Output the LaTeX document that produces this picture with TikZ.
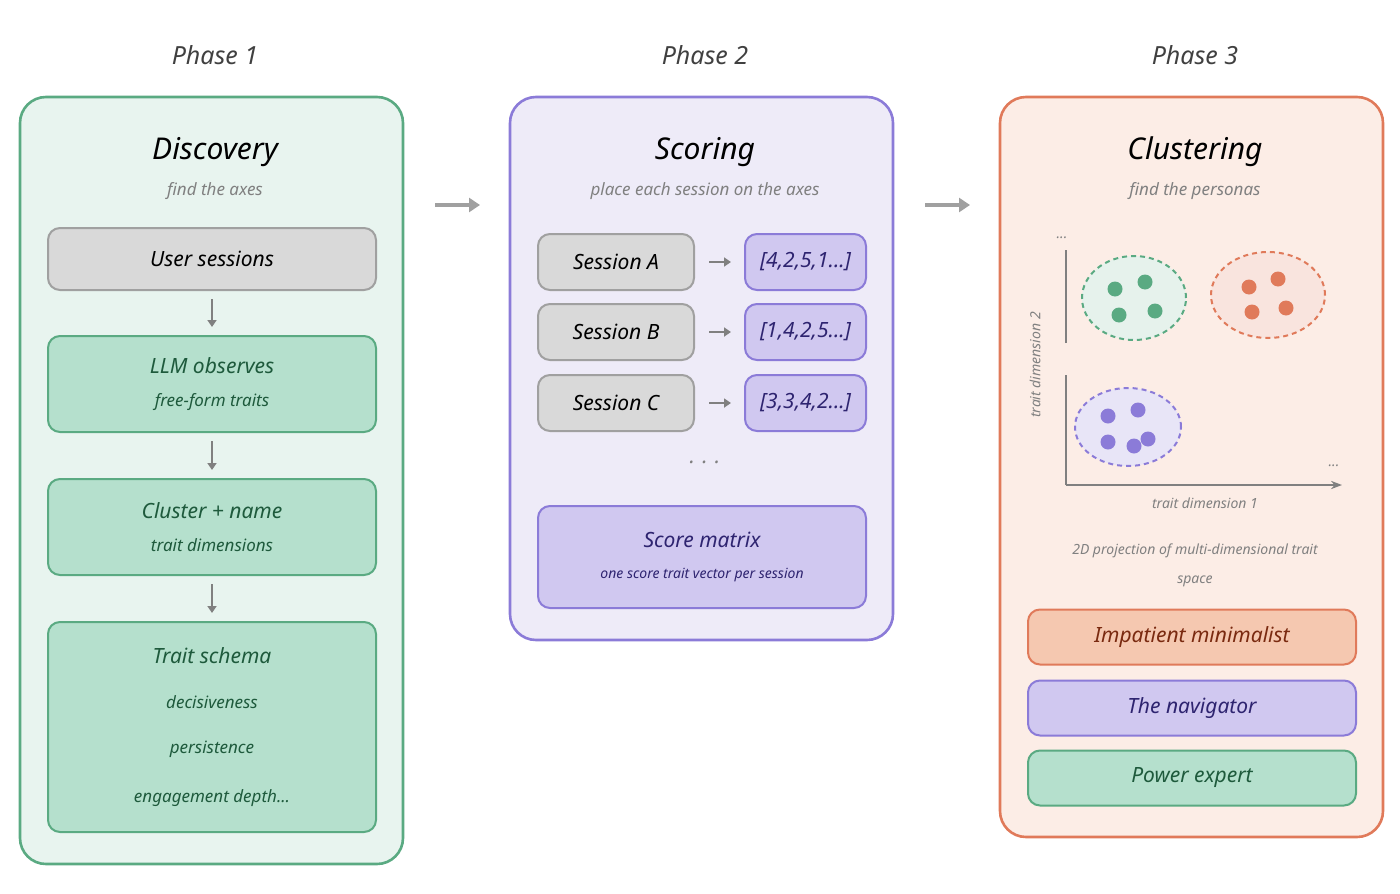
\documentclass[tikz,border=0pt]{standalone}
\usepackage{fontspec}
\setmainfont{Noto Sans}[AutoFakeBold=2.5]
\usepackage{tikz}
\usetikzlibrary{arrows.meta,positioning,shapes.geometric}
\definecolor{gline}{HTML}{5AAA82}
\definecolor{gback}{HTML}{E8F4EF}
\definecolor{gfill}{HTML}{B5E0CD}
\definecolor{gtext}{HTML}{1E5A3C}
\definecolor{pline}{HTML}{8B7BD8}
\definecolor{pback}{HTML}{EEEBF8}
\definecolor{pfill}{HTML}{D0C8F0}
\definecolor{ptext}{HTML}{2E2470}
\definecolor{oline}{HTML}{E07A5A}
\definecolor{oback}{HTML}{FCEDE6}
\definecolor{ofill}{HTML}{F5C8B0}
\definecolor{otext}{HTML}{7A2A10}
\definecolor{sfill}{HTML}{D9D9D9}
\definecolor{sline}{HTML}{A0A0A0}
\newcommand{\fsTitle}{\fontsize{30pt}{36pt}\selectfont\bfseries\itshape}
\newcommand{\fsBox}{\fontsize{21pt}{26pt}\selectfont\itshape}
\newcommand{\fsSub}{\fontsize{17pt}{22pt}\selectfont\itshape}
\newcommand{\fsTiny}{\fontsize{14pt}{18pt}\selectfont\itshape}
\tikzset{
  font={\itshape},
  panel/.style={draw=#1, line width=2.6pt, rounded corners=26pt},
  box/.style={draw=#1, line width=2pt, rounded corners=12pt, inner sep=0pt},
  flow/.style={-{Triangle[length=7pt,width=9pt]}, draw=gray, line width=1.8pt},
  big/.style={-{Triangle[length=11pt,width=14pt]}, draw=sline, line width=3.4pt},
  dot/.style={circle, inner sep=0pt, minimum size=15pt},
  blob/.style={ellipse, draw=#1, dash pattern=on 5pt off 4pt, line width=2pt}}
\begin{document}
\begin{tikzpicture}[x=1pt,y=-1pt]
\useasboundingbox (0,0) rectangle (1400,894);
% phase labels
\foreach \x/\n in {215/1,705/2,1195/3}
  \node[font=\fontsize{25pt}{30pt}\selectfont\itshape, text=darkgray] (ph\n) at (\x,55) {Phase \n};
% panels
\filldraw[panel=gline, fill=gback] (20,97) rectangle (403,864);
\filldraw[panel=pline, fill=pback] (510,97) rectangle (893,640);
\filldraw[panel=oline, fill=oback] (1000,97) rectangle (1383,837);
\coordinate (a1) at (435,205); \coordinate (a2) at (480,205);
\coordinate (a3) at (925,205); \coordinate (a4) at (970,205);
\draw[big] (a1) -- (a2);
\draw[big] (a3) -- (a4);
% phase 1
\node[font=\fsTitle] (t1) at (215,152) {Discovery};
\node[text=gray, font=\fsSub] (s1) at (215,191) {find the axes};
\node[box=sline, fill=sfill, minimum width=328pt, minimum height=62pt, font=\fsBox] (user) at (212,259) {User sessions};
\node[box=gline, fill=gfill, minimum width=328pt, minimum height=96pt, text=gtext, align=center] (llm) at (212,384)
  {{\fsBox LLM observes}\\[19pt]{\fsSub free-form traits}};
\node[box=gline, fill=gfill, minimum width=328pt, minimum height=96pt, text=gtext, align=center] (clu) at (212,527)
  {{\fsBox Cluster + name}\\[19pt]{\fsSub trait dimensions}};
\node[box=gline, fill=gfill, minimum width=328pt, minimum height=210pt, text=gtext, align=center] (sch) at (212,727)
  {{\fsBox Trait schema}\\[31pt]{\fsSub decisiveness}\\[31pt]{\fsSub persistence}\\[31pt]{\fsSub engagement depth...}};
\draw[flow] ([yshift=-8pt]user.south) -- ([yshift=8pt]llm.north);
\draw[flow] ([yshift=-8pt]llm.south) -- ([yshift=8pt]clu.north);
\draw[flow] ([yshift=-8pt]clu.south) -- ([yshift=8pt]sch.north);
% phase 2
\node[font=\fsTitle] (t2) at (705,152) {Scoring};
\node[text=gray, font=\fsSub] (s2) at (705,191) {place each session on the axes};
\foreach \n/\y/\v in {A/262/{[4,2,5,1...]},B/332/{[1,4,2,5...]},C/403/{[3,3,4,2...]}}{
  \node[box=sline, fill=sfill, minimum width=156pt, minimum height=56pt, font=\fsBox] (ses\n) at (616,\y) {Session \n};
  \node[box=pline, fill=pfill, minimum width=121pt, minimum height=56pt, text=ptext, font=\fsBox] (vec\n) at (805.5,\y) {\v};
  \draw[flow] ([xshift=14pt]ses\n.east) -- ([xshift=-13pt]vec\n.west);
}
\node[text=gray, font=\fsBox] (dots) at (705,462) {. . .};
\node[box=pline, fill=pfill, minimum width=328pt, minimum height=102pt, text=ptext, align=center] (mat) at (702,557)
  {{\fsBox\bfseries Score matrix}\\[19pt]{\fsTiny one score trait vector per session}};
% phase 3
\node[font=\fsTitle] (t3) at (1195,152) {Clustering};
\node[text=gray, font=\fsSub] (s3) at (1195,191) {find the personas};
\coordinate (o) at (1066,485); \coordinate (xe) at (1342,485);
\coordinate (y1) at (1066,375); \coordinate (y2) at (1066,343); \coordinate (ye) at (1066,250);
\draw[gray, line width=2pt, -{Stealth[length=11pt]}] (o) -- (xe);
\draw[gray, line width=2pt] (o) -- (y1);
\draw[gray, line width=2pt] (y2) -- (ye);
\node[text=gray, font=\fsTiny] (xd) at (1334,466) {...};
\node[text=gray, font=\fsTiny] (yd) at (1062,238) {...};
\node[text=gray, font=\fsTiny] (xl) at (1205,503) {trait dimension 1};
\node[text=gray, font=\fsTiny, rotate=90] (yl) at (1035,365) {trait dimension 2};
\node[blob=gline, fill=gline!15, minimum width=104pt, minimum height=84pt] (cg) at (1134,298) {};
\node[blob=oline, fill=oline!20, minimum width=114pt, minimum height=86pt] (co) at (1268,295) {};
\node[blob=pline, fill=pline!20, minimum width=106pt, minimum height=78pt] (cp) at (1128,427) {};
\foreach \x/\y in {1115/289,1145/282,1155/311,1119/315}
  \node[dot, fill=gline] at (\x,\y) {};
\foreach \x/\y in {1249/287,1278/279,1286/308,1252/312}
  \node[dot, fill=oline] at (\x,\y) {};
\foreach \x/\y in {1108/416,1138/410,1108/442,1134/446,1148/439}
  \node[dot, fill=pline] at (\x,\y) {};
\node[text=gray, align=center, font=\fsTiny] (cap) at (1195,565) {2D projection of multi-dimensional trait\\[11pt]space};
\node[box=oline, fill=ofill, minimum width=328pt, minimum height=55pt, text=otext, font=\fsBox] (p1) at (1192,637) {Impatient minimalist};
\node[box=pline, fill=pfill, minimum width=328pt, minimum height=55pt, text=ptext, font=\fsBox] (p2) at (1192,708) {The navigator};
\node[box=gline, fill=gfill, minimum width=328pt, minimum height=55pt, text=gtext, font=\fsBox] (p3) at (1192,778) {Power expert};
\end{tikzpicture}
\end{document}
